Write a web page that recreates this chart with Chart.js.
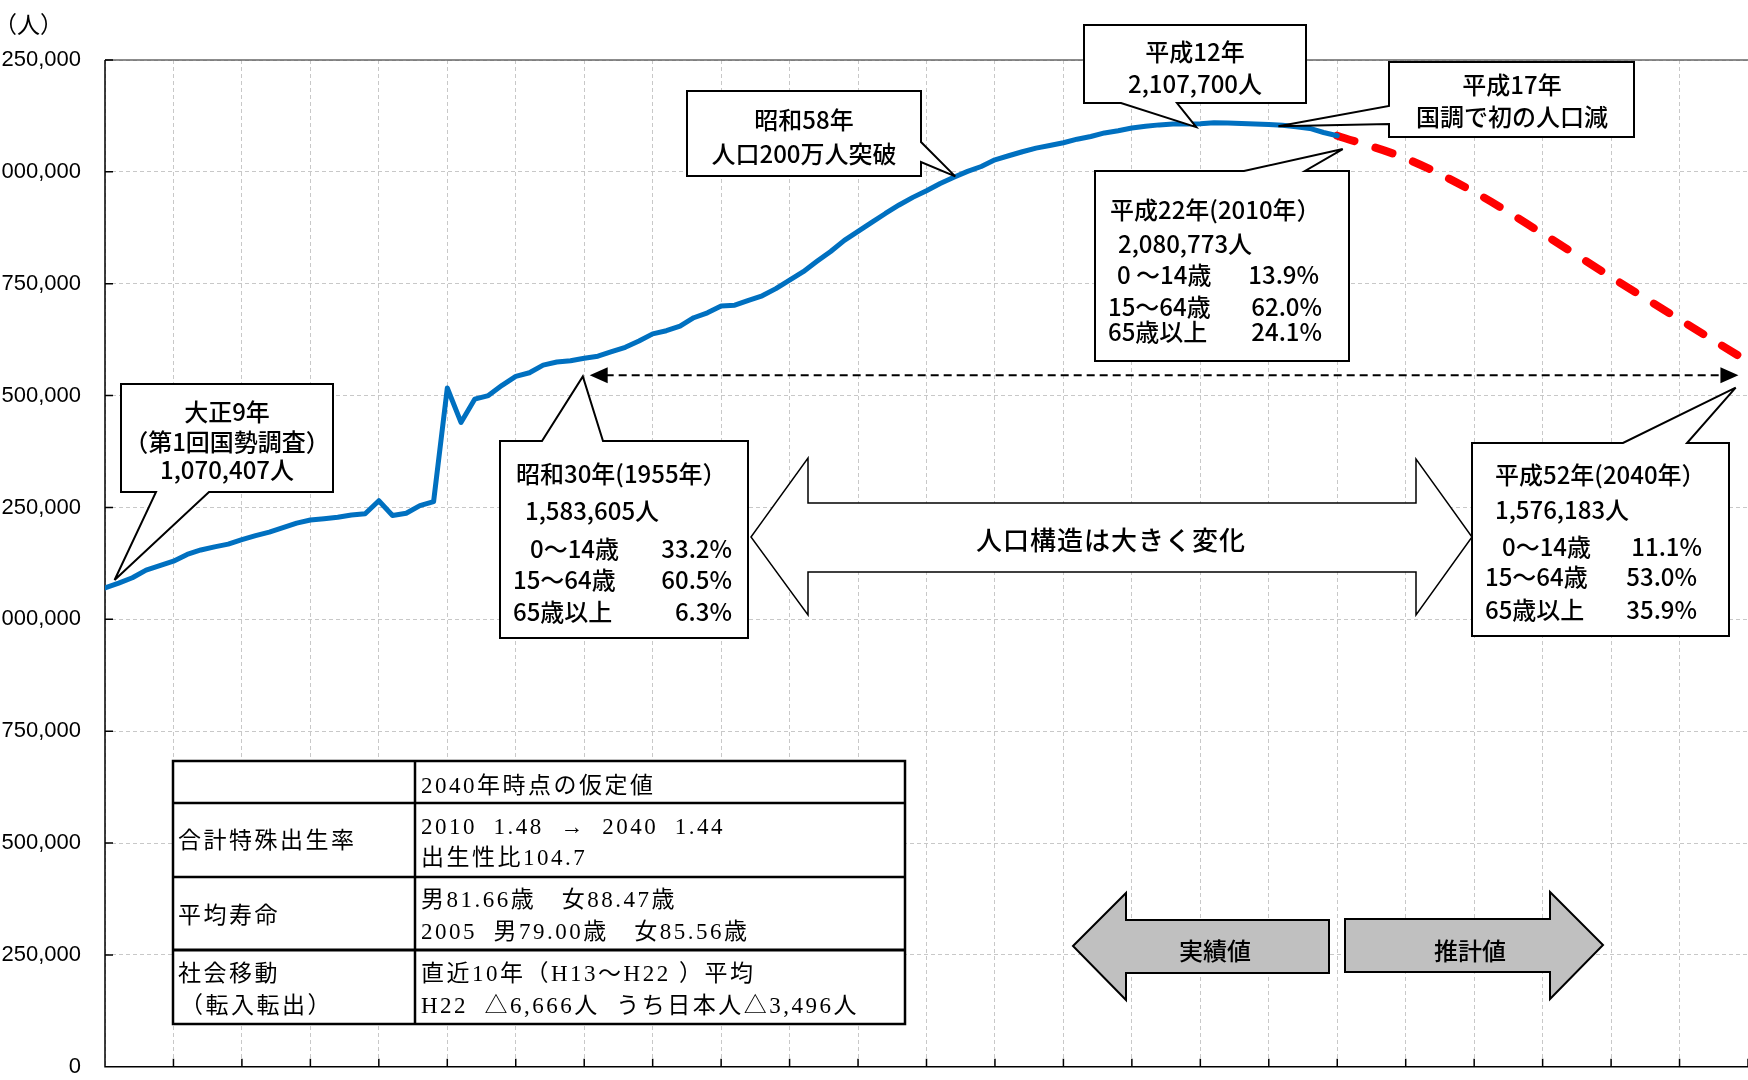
<!DOCTYPE html>
<html lang="ja">
<head>
<meta charset="utf-8">
<title>人口の推移と将来推計</title>
<script src="https://cdn.jsdelivr.net/npm/chart.js@4.4.1/dist/chart.umd.min.js"></script>
<style>
  html, body { margin: 0; padding: 0; background: #fff; overflow: hidden; }
  body { width: 1748px; height: 1080px; position: relative; }
  #wrap { position: absolute; left: -40px; top: 0; width: 1800px; height: 1104px; }
  #overlay { position: absolute; left: 0; top: 0; width: 1748px; height: 1080px; }
  #unit { position: absolute; left: -6px; top: 6px; font: 23px "Noto Sans CJK JP", sans-serif; color: #000; }
  #overlay text { white-space: pre; }
</style>
</head>
<body>
<div id="wrap"><canvas id="popChart" width="1800" height="1104"></canvas></div>
<div id="unit">（人）</div>
<svg id="overlay" xmlns="http://www.w3.org/2000/svg" width="1748" height="1080"></svg>

<script>
// actual population by year (1920 - 2010)
var actualYears = [
  1920, 1921, 1922, 1923, 1924, 1925, 1926, 1927, 1928, 1929,
  1930, 1931, 1932, 1933, 1934, 1935, 1936, 1937, 1938, 1939,
  1940, 1941, 1942, 1943, 1944, 1945, 1946, 1947, 1948, 1949,
  1950, 1951, 1952, 1953, 1954, 1955, 1956, 1957, 1958, 1959,
  1960, 1961, 1962, 1963, 1964, 1965, 1966, 1967, 1968, 1969,
  1970, 1971, 1972, 1973, 1974, 1975, 1976, 1977, 1978, 1979,
  1980, 1981, 1982, 1983, 1984, 1985, 1986, 1987, 1988, 1989,
  1990, 1991, 1992, 1993, 1994, 1995, 1996, 1997, 1998, 1999,
  2000, 2001, 2002, 2003, 2004, 2005, 2006, 2007, 2008, 2009,
  2010
];
var actualPop = [
  1070407, 1081000, 1093000, 1110000, 1120000, 1130000, 1145000, 1155000, 1162000, 1168000,
  1178000, 1187000, 1195000, 1205000, 1215000, 1222000, 1225000, 1228000, 1233000, 1236000,
  1265000, 1232000, 1237000, 1254000, 1263000, 1517000, 1440000, 1492000, 1500000, 1523000,
  1543000, 1551000, 1568000, 1575000, 1578000, 1583605, 1588000, 1598000, 1608000, 1622000,
  1638000, 1645000, 1655000, 1674000, 1685000, 1700000, 1702000, 1713000, 1723000, 1739000,
  1758000, 1777000, 1800000, 1822000, 1847000, 1867000, 1887000, 1907000, 1926000, 1943000,
  1958000, 1974000, 1988000, 2001000, 2012000, 2027000, 2036000, 2045000, 2053000, 2059000,
  2065000, 2073000, 2079000, 2087000, 2092000, 2098000, 2102000, 2105000, 2107000, 2107000,
  2107700, 2110000, 2109000, 2108000, 2107000, 2106000, 2104000, 2101000, 2097000, 2088000,
  2080773
];

// projection (2010 - 2040)
var projYears = [2010, 2015, 2020, 2025, 2030, 2035, 2040];
var projPop = [2080773, 2030000, 1955000, 1862000, 1765000, 1670000, 1576183];

var yTicks = [0, 250000, 500000, 750000, 1000000, 1250000, 1500000, 1750000, 2000000, 2250000];
var xMin = 1920, xMax = 2040, xStep = 5;

var WRAP_LEFT = -40;

function toPoints(xs, ys) {
  var pts = [];
  for (var i = 0; i < xs.length; i++) pts.push({ x: xs[i], y: ys[i] });
  return pts;
}

// axis frame + inside tick marks (Excel style)
var frame = {
  id: 'frame',
  beforeDatasetsDraw: function (c) {
    var a = c.chartArea, ctx = c.ctx, xs = c.scales.x, ys = c.scales.y;
    ctx.save();
    ctx.lineWidth = 1.5;
    ctx.strokeStyle = '#666';
    ctx.beginPath(); ctx.moveTo(a.left, a.top); ctx.lineTo(a.right, a.top); ctx.stroke();
    ctx.strokeStyle = '#000';
    ctx.beginPath();
    ctx.moveTo(a.left, a.top); ctx.lineTo(a.left, a.bottom); ctx.lineTo(a.right, a.bottom);
    for (var v = xMin; v <= xMax; v += xStep) {
      var px = xs.getPixelForValue(v);
      ctx.moveTo(px, a.bottom); ctx.lineTo(px, a.bottom - 8);
    }
    for (var i = 0; i < yTicks.length; i++) {
      var py = ys.getPixelForValue(yTicks[i]);
      ctx.moveTo(a.left, py); ctx.lineTo(a.left + 8, py);
    }
    ctx.stroke();
    ctx.restore();
  }
};

var chart = new Chart(document.getElementById('popChart'), {
  type: 'line',
  data: {
    datasets: [{
      label: '実績値',
      data: toPoints(actualYears, actualPop),
      borderColor: '#0070C0',
      borderWidth: 5,
      pointRadius: 0,
      tension: 0,
      borderJoinStyle: 'round',
      borderCapStyle: 'round'
    }, {
      label: '推計値',
      data: toPoints(projYears, projPop),
      borderColor: '#FF0000',
      borderWidth: 8,
      borderDash: [18, 22],
      borderCapStyle: 'round',
      pointRadius: 0,
      cubicInterpolationMode: 'monotone'
    }]
  },
  options: {
    responsive: false,
    animation: false,
    devicePixelRatio: 1,
    layout: { padding: { top: 60, right: 12, bottom: 16, left: 0 } },
    plugins: { legend: { display: false }, tooltip: { enabled: false } },
    scales: {
      x: {
        type: 'linear', min: xMin, max: xMax,
        afterFit: function (s) { s.height = 0; },
        ticks: { display: false, stepSize: xStep },
        grid: { color: '#c8c8c8', lineWidth: 1, drawTicks: false },
        border: { display: false, dash: [4, 3] }
      },
      y: {
        min: 0, max: 2250000,
        afterBuildTicks: function (s) { s.ticks = yTicks.map(function (v) { return { value: v }; }); },
        afterFit: function (s) { s.width = 145; },
        ticks: {
          padding: 24, color: '#000',
          font: { family: '"Liberation Sans", Arial, sans-serif', size: 22 },
          callback: function (v) { return v.toLocaleString('en-US'); }
        },
        grid: { color: '#c8c8c8', lineWidth: 1, drawTicks: false },
        border: { display: false, dash: [4, 3] }
      }
    }
  },
  plugins: [frame]
});

// ---------- annotations (svg overlay) ----------
var svg = document.getElementById('overlay');
var SANS = '"Noto Sans CJK JP", sans-serif';
var SERIF = '"Liberation Serif", "Noto Sans CJK JP", serif';

function X(v) { return chart.scales.x.getPixelForValue(v) + WRAP_LEFT; }
function Y(v) { return chart.scales.y.getPixelForValue(v); }

function add(tag, attrs, text) {
  var el = document.createElementNS('http://www.w3.org/2000/svg', tag);
  for (var k in attrs) el.setAttribute(k, attrs[k]);
  if (text !== undefined) el.textContent = text;
  svg.appendChild(el);
  return el;
}
function txt(x, y, s, anchor, opts) {
  opts = opts || {};
  return add('text', {
    x: x, y: y, 'text-anchor': anchor || 'start', 'dominant-baseline': 'central',
    'font-family': opts.family || SANS, 'font-size': opts.size || 24,
    'font-weight': opts.weight || 500,
    'letter-spacing': opts.spacing || 0, fill: '#000'
  }, s);
}
function callout(b, side, p1, p2, tip) {
  var l = b[0], t = b[1], r = b[2], bt = b[3], d;
  if (side === 'top') d = ['M', l, t, 'L', p1, t, 'L', tip[0], tip[1], 'L', p2, t, 'L', r, t, 'L', r, bt, 'L', l, bt, 'Z'];
  if (side === 'bottom') d = ['M', l, t, 'L', r, t, 'L', r, bt, 'L', p2, bt, 'L', tip[0], tip[1], 'L', p1, bt, 'L', l, bt, 'Z'];
  if (side === 'right') d = ['M', l, t, 'L', r, t, 'L', r, p1, 'L', tip[0], tip[1], 'L', r, p2, 'L', r, bt, 'L', l, bt, 'Z'];
  if (side === 'left') d = ['M', l, t, 'L', r, t, 'L', r, bt, 'L', l, bt, 'L', l, p2, 'L', tip[0], tip[1], 'L', l, p1, 'Z'];
  add('path', { d: d.join(' '), fill: '#fff', stroke: '#000', 'stroke-width': 2, 'stroke-linejoin': 'miter' });
}

// dashed double arrow 1955 -> 2040
var ay = Y(1545700), ax1 = X(1955.4), ax2 = X(2039.3);
add('line', { x1: ax1 + 16, y1: ay, x2: ax2 - 16, y2: ay, stroke: '#000', 'stroke-width': 2, 'stroke-dasharray': '8 5' });
add('polygon', { points: [ax1, ay, ax1 + 18, ay - 8, ax1 + 18, ay + 8].join(' '), fill: '#000' });
add('polygon', { points: [ax2, ay, ax2 - 18, ay - 8, ax2 - 18, ay + 8].join(' '), fill: '#000' });

// callouts
callout([121, 384, 333, 492], 'bottom', 156, 209, [X(1920.7), Y(1088000)]);
txt(227, 410, '大正9年', 'middle');
txt(227, 440, '（第1回国勢調査）', 'middle');
txt(227, 468, '1,070,407人', 'middle');

callout([687, 91, 921, 176], 'right', 142, 162, [X(1982.1), Y(1990000)]);
txt(804, 118, '昭和58年', 'middle');
txt(804, 152, '人口200万人突破', 'middle');

callout([1084, 25, 1306, 103], 'bottom', 1121, 1177, [X(1999.7), Y(2100000)]);
txt(1195, 50, '平成12年', 'middle');
txt(1195, 82, '2,107,700人', 'middle');

callout([1389, 62, 1634, 137], 'left', 106, 124, [X(2005.7), Y(2102000)]);
txt(1512, 83, '平成17年', 'middle');
txt(1512, 115, '国調で初の人口減', 'middle');

callout([1095, 171, 1349, 361], 'top', 1244, 1305, [X(2010.4), Y(2051000)]);
txt(1110, 208, '平成22年(2010年）');
txt(1118, 242, '2,080,773人');
txt(1117, 273, '0 ～14歳'); txt(1319, 273, '13.9%', 'end');
txt(1108, 305, '15～64歳'); txt(1322, 305, '62.0%', 'end');
txt(1108, 330, '65歳以上'); txt(1322, 330, '24.1%', 'end');

callout([500, 441, 748, 638], 'top', 542, 603, [X(1954.9), Y(1543000)]);
txt(516, 472, '昭和30年(1955年）');
txt(525, 509, '1,583,605人');
txt(530, 547, '0～14歳'); txt(732, 547, '33.2%', 'end');
txt(513, 578, '15～64歳'); txt(732, 578, '60.5%', 'end');
txt(513, 610, '65歳以上'); txt(732, 610, '6.3%', 'end');

callout([1472, 443, 1729, 636], 'top', 1623, 1687, [X(2039.1), Y(1518000)]);
txt(1495, 473, '平成52年(2040年）');
txt(1495, 508, '1,576,183人');
txt(1502, 545, '0～14歳'); txt(1702, 545, '11.1%', 'end');
txt(1485, 575, '15～64歳'); txt(1697, 575, '53.0%', 'end');
txt(1485, 608, '65歳以上'); txt(1697, 608, '35.9%', 'end');

// big double arrow
add('polygon', {
  points: '751,537 808,458 808,503 1416,503 1416,459 1472,537 1416,615 1416,572 808,572 808,615',
  fill: '#fff', stroke: '#000', 'stroke-width': 1.5
});
txt(1111, 538, '人口構造は大きく変化', 'middle', { size: 26, spacing: 1 });

// actual / projected arrows
add('polygon', {
  points: '1073,946 1126,893 1126,920 1329,920 1329,973 1126,973 1126,1000',
  fill: '#c0c0c0', stroke: '#000', 'stroke-width': 2
});
add('polygon', {
  points: '1345,919 1550,919 1550,892 1603,945 1550,999 1550,972 1345,972',
  fill: '#c0c0c0', stroke: '#000', 'stroke-width': 2
});
txt(1215, 949, '実績値', 'middle');
txt(1470, 949, '推計値', 'middle');

// assumptions table
add('rect', { x: 173, y: 761, width: 732, height: 263, fill: '#fff', stroke: '#000', 'stroke-width': 2.5 });
add('line', { x1: 173, y1: 803, x2: 905, y2: 803, stroke: '#000', 'stroke-width': 2.5 });
add('line', { x1: 173, y1: 877, x2: 905, y2: 877, stroke: '#000', 'stroke-width': 2.5 });
add('line', { x1: 173, y1: 950, x2: 905, y2: 950, stroke: '#000', 'stroke-width': 3 });
add('line', { x1: 415, y1: 761, x2: 415, y2: 1024, stroke: '#000', 'stroke-width': 2.5 });
var T = { family: SERIF, size: 23, spacing: 2.5, weight: 400 };
txt(421, 785, '2040年時点の仮定値', 'start', T);
txt(178, 840, '合計特殊出生率', 'start', T);
txt(421, 826, '2010  1.48  →  2040  1.44', 'start', T);
txt(421, 857, '出生性比104.7', 'start', T);
txt(178, 915, '平均寿命', 'start', T);
txt(421, 899, '男81.66歳　女88.47歳', 'start', T);
txt(421, 931, '2005  男79.00歳　女85.56歳', 'start', T);
txt(178, 973, '社会移動', 'start', T);
txt(180, 1005, '（転入転出）', 'start', T);
txt(421, 973, '直近10年（H13～H22 ）平均', 'start', T);
txt(421, 1005, 'H22  △6,666人  うち日本人△3,496人', 'start', T);
</script>
</body>
</html>
